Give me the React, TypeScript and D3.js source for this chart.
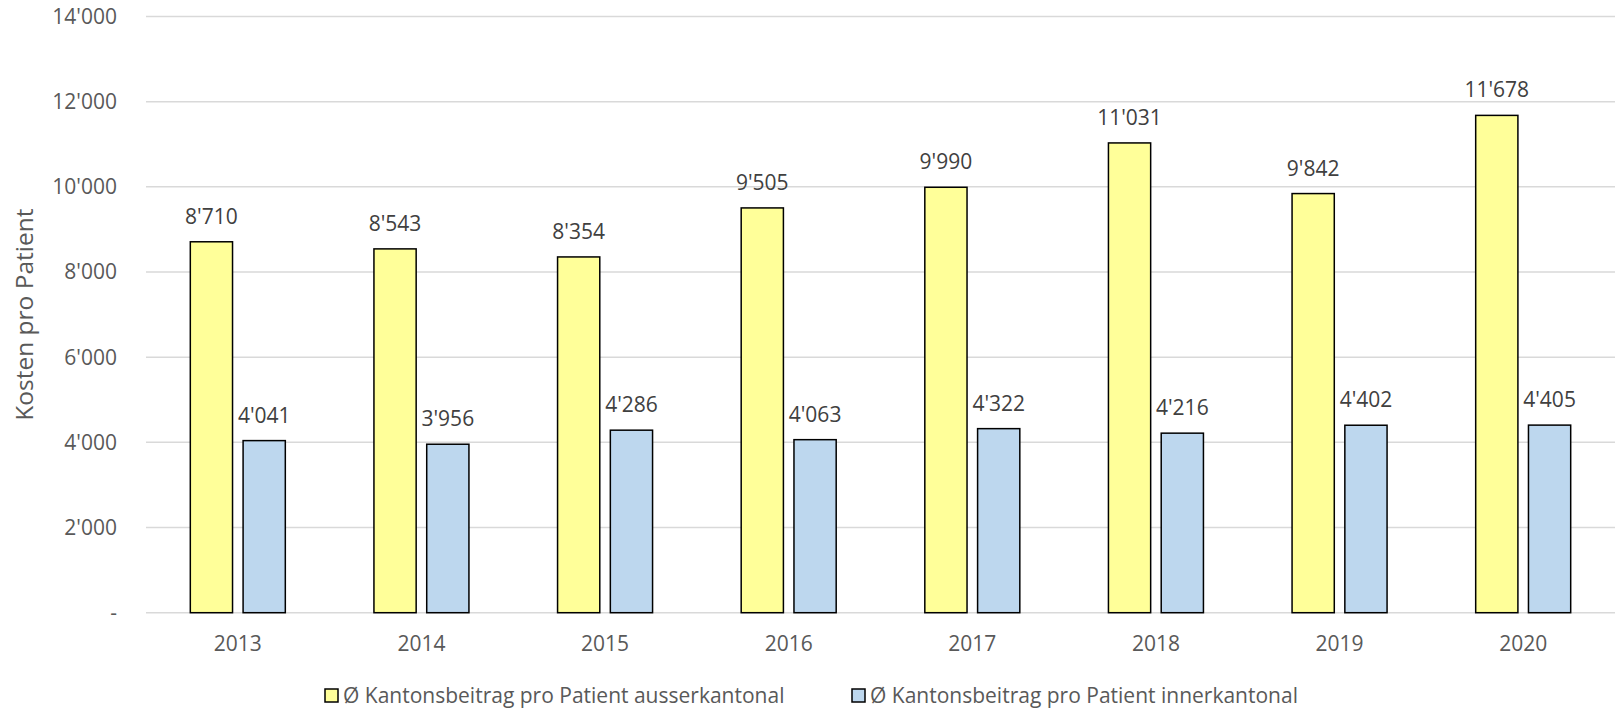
import React from "react";
import * as d3 from "d3";

const years = ["2013", "2014", "2015", "2016", "2017", "2018", "2019", "2020"];
const ausserkantonal = [8710, 8543, 8354, 9505, 9990, 11031, 9842, 11678];
const innerkantonal = [4041, 3956, 4286, 4063, 4322, 4216, 4402, 4405];
const seriesNames = [
  "Ø Kantonsbeitrag pro Patient ausserkantonal",
  "Ø Kantonsbeitrag pro Patient innerkantonal",
];
const seriesColors = ["#FFFF99", "#BDD7EE"];
const yTicks = [0, 2000, 4000, 6000, 8000, 10000, 12000, 14000];
const yTitle = "Kosten pro Patient";

const W = 1615;
const H = 711;
const FONT = "'Open Sans', 'DejaVu Sans', sans-serif";

const fmt = (v: number) => (v === 0 ? "-" : d3.format(",")(v).replace(/,/g, "'"));

export default function App() {
  const left = 146;
  const right = 1615;
  const top = 16.5;
  const bottom = 612.7;

  const x0 = d3.scaleBand<string>().domain(years).range([left, right]).padding(0);
  const groupW = 95;
  const x1 = d3
    .scaleBand<number>()
    .domain([0, 1])
    .range([(x0.bandwidth() - groupW) / 2, (x0.bandwidth() + groupW) / 2])
    .paddingInner(0.2)
    .paddingOuter(0);
  const y = d3.scaleLinear().domain([0, 14000]).range([bottom, top]);

  const series = [ausserkantonal, innerkantonal];

  const legendItems = [
    { x: 325, name: seriesNames[0], color: seriesColors[0] },
    { x: 852, name: seriesNames[1], color: seriesColors[1] },
  ];

  return (
    <svg
      width={W}
      height={H}
      style={{ position: "absolute", left: 0, top: 0, background: "#fff" }}
      fontFamily={FONT}
    >
      {yTicks.map((t) => (
        <line
          key={"g" + t}
          x1={left}
          x2={right}
          y1={y(t)}
          y2={y(t)}
          stroke="#d9d9d9"
          strokeWidth={1.5}
        />
      ))}
      {yTicks.map((t) => (
        <text
          key={"yl" + t}
          x={117}
          y={y(t)}
          dy="0.35em"
          textAnchor="end"
          fontSize={21}
          fill="#595959"
        >
          {fmt(t)}
        </text>
      ))}
      <text
        transform={`translate(33, ${(top + bottom) / 2}) rotate(-90)`}
        textAnchor="middle"
        fontSize={24.5}
        fill="#595959"
      >
        {yTitle}
      </text>
      {years.map((yr, i) => (
        <g key={yr} transform={`translate(${x0(yr)},0)`}>
          {series.map((s, si) => (
            <g key={si}>
              <rect
                x={x1(si)}
                y={y(s[i])}
                width={x1.bandwidth()}
                height={y(0) - y(s[i])}
                fill={seriesColors[si]}
                stroke="#000"
                strokeWidth={1.5}
              />
              <text
                x={(x1(si) as number) + x1.bandwidth() / 2}
                y={y(s[i]) - 18}
                textAnchor="middle"
                fontSize={21}
                fill="#404040"
              >
                {fmt(s[i])}
              </text>
            </g>
          ))}
          <text
            x={x0.bandwidth() / 2}
            y={651}
            textAnchor="middle"
            fontSize={21}
            fill="#595959"
          >
            {yr}
          </text>
        </g>
      ))}
      {legendItems.map((l) => (
        <g key={l.name}>
          <rect x={l.x} y={689} width={13} height={13} fill={l.color} stroke="#000" strokeWidth={1.5} />
          <text x={l.x + 18} y={703} fontSize={21} fill="#595959">
            {l.name}
          </text>
        </g>
      ))}
    </svg>
  );
}
